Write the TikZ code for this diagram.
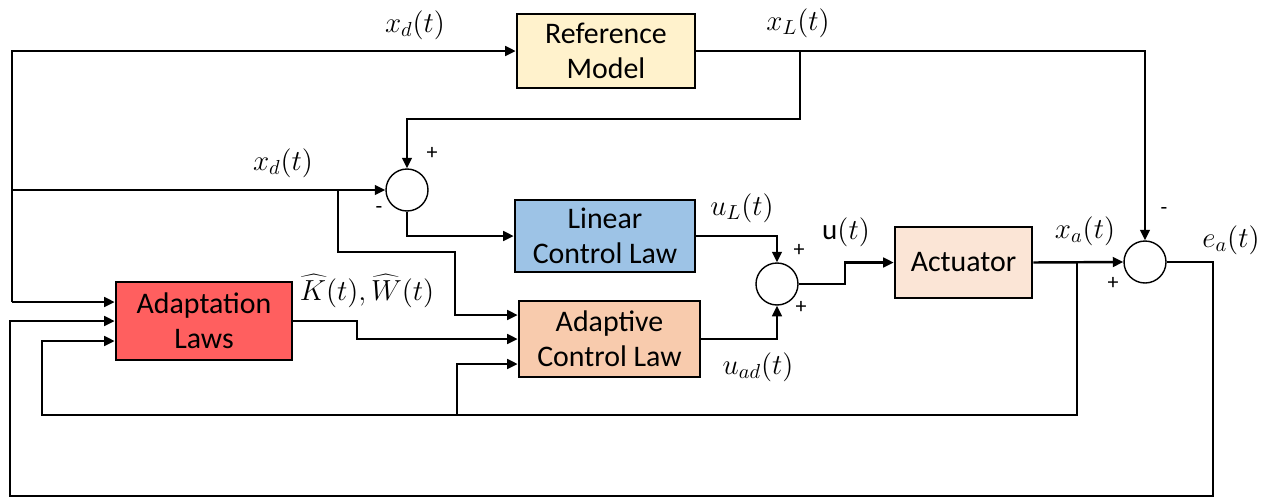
\RequirePackage{fix-cm}
\documentclass[tikz,border=0pt]{standalone}
\usepackage{fontspec}
\setmainfont{Carlito}
\usetikzlibrary{arrows.meta,calc}
\definecolor{rmfill}{HTML}{FFF2CC}
\definecolor{lclfill}{HTML}{9DC3E6}
\definecolor{aclfill}{HTML}{F8CBAD}
\definecolor{actfill}{HTML}{FBE5D6}
\definecolor{alfill}{HTML}{FF5F5F}
\tikzset{
  blk/.style={draw=black, line width=1.5pt, align=center, inner sep=0pt,
    font=\fontsize{17}{20}\selectfont},
  sumc/.style={draw=black, line width=0.8pt, circle, minimum size=0.84cm, inner sep=0pt, fill=white},
  arr/.style={line width=1.4pt, -{Triangle[length=6pt,width=5.5pt]}},
  ln/.style={line width=1.4pt},
  lbl/.style={font=\fontsize{16.5}{18}\selectfont, inner sep=0pt},
  sgn/.style={font=\fontsize{12.5}{14}\selectfont, inner sep=0pt}
}
\begin{document}
\begin{tikzpicture}[x=0.02cm,y=-0.02cm]
\useasboundingbox (0,0) rectangle (1274,498);
% blocks
\node[blk, fill=rmfill, minimum width=3.56cm, minimum height=1.48cm] (rm) at (606,51) {Reference\\Model};
\node[blk, fill=lclfill, minimum width=3.6cm, minimum height=1.44cm] (lcl) at (605,236) {Linear\\Control Law};
\node[blk, fill=aclfill, minimum width=3.62cm, minimum height=1.52cm] (acl) at (609.5,339) {Adaptive\\Control Law};
\node[blk, fill=actfill, minimum width=2.74cm, minimum height=1.42cm] (act) at (963.5,262.5) {Actuator};
\node[blk, fill=alfill, minimum width=3.52cm, minimum height=1.56cm] (al) at (204,321) {Adaptation\\Laws};
% summing junctions
\node[sumc] (s1) at (407,190) {};
\node[sumc] (s3) at (777,284) {};
\node[sumc] (s2) at (1145,262) {};
% branch points
\coordinate (p1) at (12,302);
\coordinate (p2) at (12,190);
\coordinate (p3) at (800,51);
\coordinate (p4) at (338,190);
\coordinate (p5) at (1077,262);
\coordinate (p6) at (457,415);
% connectors
\draw[arr] (p1) |- (rm.west);
\draw[arr] (p1) -- (p1 -| al.west);
\draw[arr] (p2) -- (s1.west);
\draw[arr] (rm.east) -| (s2.north);
\draw[arr] (p3) -- (800,119) -| (s1.north);
\draw[arr] (s1.south) |- (lcl.west);
\draw[arr] (p4) -- (338,252) -- (455,252) |- ([yshift=0.48cm]acl.west);
\draw[arr] (al.east) -- (357,321) |- (acl.west);
\draw[arr] (lcl.east) -| (s3.north);
\draw[arr] (acl.east) -| (s3.south);
\draw[arr] (s3.east) -- (845,284) |- (act.west);
\draw[arr] (act.east) -- (s2.west);
\draw[arr] (p5) |- (42,415) |- ([yshift=-0.4cm]al.west);
\draw[arr] (p6) |- ([yshift=-0.5cm]acl.west);
\draw[arr] (s2.east) -- (1213,262) |- (10,496) |- (al.west);
% labels
\node[lbl] (lxd1) at (415,25) {$x_d(t)$};
\node[lbl] (lxl) at (798,23) {$x_L(t)$};
\node[lbl] (lxd2) at (283,163) {$x_d(t)$};
\node[lbl] (lkw) at (367,291) {$\widehat{K}(t),\widehat{W}(t)$};
\node[lbl] (lul) at (742,208) {$u_L(t)$};
\node[lbl] (lu) at (846,232) {u$(t)$};
\node[lbl] (luad) at (758,367) {$u_{ad}(t)$};
\node[lbl] (lxa) at (1085,231) {$x_a(t)$};
\node[lbl] (lea) at (1231,240) {$e_a(t)$};
% signs
\node[sgn] at (432,153) {+};
\node[sgn] at (379,210) {-};
\node[sgn] at (799,250) {+};
\node[sgn] at (801,307) {+};
\node[sgn] at (1164,211) {-};
\node[sgn] at (1113,283) {+};
\end{tikzpicture}
\end{document}
